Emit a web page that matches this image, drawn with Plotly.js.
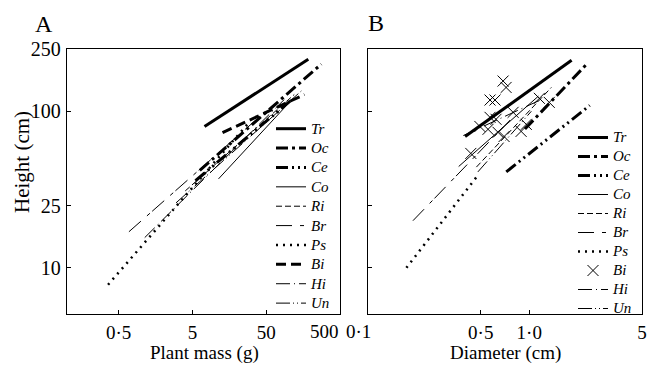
<!DOCTYPE html>
<html><head><meta charset="utf-8">
<script src="https://cdn.plot.ly/plotly-3.0.1.min.js"></script>
<style>html,body{margin:0;padding:0;background:#fff}#c{width:648px;height:368px}</style>
</head><body><div id="c"></div>
<script>
// Species (legend order)
const species = ['Tr','Oc','Ce','Co','Ri','Br','Ps','Bi','Hi','Un'];
// Panel A: plant mass (g) vs height (cm), regression segment endpoints
const massStart   = [7.3, 6.3, 5.5, 11.3, 4.0, 0.69, 0.36, 12.8, 1.13, 3.0];
const massEnd     = [186, 279, 110, 103, 120, 47, 30, 165, 88, 150];
const heightAStart= [80, 42, 36, 37, 31, 17, 7.8, 73, 15.6, 26];
const heightAEnd  = [215, 200, 118, 114, 128, 98, 86, 128, 119, 135];
// Panel B: diameter (cm) vs height (cm)
const diamStart   = [0.40, 0.94, 0.72, 0.365, 0.47, 0.19, 0.173, null, 0.39, 0.48];
const diamEnd     = [1.83, 2.27, 2.37, 1.14, 1.37, 0.77, 0.48, null, 1.19, 1.03];
const heightBStart= [69, 77, 41, 44.4, 44, 20, 10, null, 70, 41];
const heightBEnd  = [212, 200, 109, 125, 142, 89, 39, null, 119, 100];
// Panel B: Bi individual points
const biDiam   = [0.688, 0.718, 0.571, 0.613, 0.571, 0.622, 0.494, 0.555, 0.64, 0.698, 0.434, 0.958, 0.89, 1.155, 1.33, 0.794];
const biHeight = [156, 142, 118, 118, 91.5, 88.9, 80, 76.7, 73.4, 69, 53.8, 82.5, 74.4, 121, 114, 98.5];
// Tick labels and titles
const massTicks = [0.5, 5, 50], massTickText = ['0·5', '5', '50'];
const diamTicks = [0.5, 1, 5], diamTickText = ['0·5', '1·0', '5'];
const heightTicks = [10, 25, 100, 250], heightTickText = ['10', '25', '100', '250'];
const edgeLabels = ['500', '0·1'];
const titles = {a: 'A', b: 'B', xA: 'Plant mass (g)', xB: 'Diameter (cm)', y: 'Height (cm)'};

const styles = {
  Tr: {width: 3, dash: 'solid'},
  Oc: {width: 3, dash: '12px,4px,3px,4px'},
  Ce: {width: 3, dash: '12px,4px,2px,4px,2px,4px'},
  Co: {width: 1, dash: 'solid'},
  Ri: {width: 1, dash: '6px,3px'},
  Br: {width: 1, dash: '16px,8px,4px,3px'},
  Ps: {width: 2.5, dash: '2px,5px'},
  Bi: {width: 3, dash: '10px,5px'},
  Hi: {width: 1, dash: '14px,4px,1px,4px'},
  Un: {width: 1, dash: '14px,3px,1px,3px,1px,3px'}
};
const lbl = (s, px) => '<span style="font-size:' + px + 'px">' + s + '</span>';

const traces = [];
species.forEach((s, i) => {
  traces.push({
    type: 'scatter', mode: 'lines', name: lbl(s, 15), legend: 'legend',
    x: [massStart[i], massEnd[i]], y: [heightAStart[i], heightAEnd[i]],
    xaxis: 'x', yaxis: 'y',
    line: {color: '#000', width: styles[s].width, dash: styles[s].dash}
  });
});
species.forEach((s, i) => {
  if (s === 'Bi') {
    traces.push({
      type: 'scatter', mode: 'markers', name: lbl(s, 15), legend: 'legend2',
      x: biDiam, y: biHeight, xaxis: 'x2', yaxis: 'y2',
      marker: {symbol: 'x-thin-open', size: 11, color: '#000', line: {width: 1, color: '#000'}}
    });
  } else {
    traces.push({
      type: 'scatter', mode: 'lines', name: lbl(s, 15), legend: 'legend2',
      x: [diamStart[i], diamEnd[i]], y: [heightBStart[i], heightBEnd[i]],
      xaxis: 'x2', yaxis: 'y2',
      line: {color: '#000', width: styles[s].width, dash: styles[s].dash}
    });
  }
});

const serif = 'Liberation Serif, Times New Roman, serif';
const axBase = {
  type: 'log', showgrid: false, zeroline: false, showline: true, mirror: true,
  linecolor: '#000', linewidth: 1.3, ticks: 'inside', ticklen: 4, tickcolor: '#000',
  tickfont: {family: serif, size: 19, color: '#000'}
};
const W = 648, H = 368;
const ann = (text, x, y, size, extra) => Object.assign({text, xref: 'paper', yref: 'paper', x: x/W, y: 1 - y/H,
  xanchor: 'center', yanchor: 'middle', showarrow: false, font: {family: serif, size, color: '#000'}}, extra || {});
const layout = {
  width: W, height: H, margin: {l: 0, r: 0, t: 0, b: 0},
  paper_bgcolor: '#fff', plot_bgcolor: '#fff', showlegend: true,
  font: {family: serif, color: '#000'},
  xaxis: Object.assign({}, axBase, {domain: [67/W, 340/W], range: [-1, Math.log10(500)],
    tickvals: massTicks, ticktext: massTickText, anchor: 'y', ticklabelstandoff: 1}),
  yaxis: Object.assign({}, axBase, {domain: [1 - 314/H, 1 - 49/H], range: [Math.log10(5.07), Math.log10(250)],
    tickvals: heightTicks, ticktext: heightTickText, anchor: 'x', ticklabelstandoff: 1,
    tickfont: {family: serif, size: 20, color: '#000'}}),
  xaxis2: Object.assign({}, axBase, {domain: [368/W, 642/W], range: [-1, Math.log10(5)],
    tickvals: diamTicks, ticktext: diamTickText, anchor: 'y2', ticklabelstandoff: 1}),
  yaxis2: Object.assign({}, axBase, {domain: [1 - 314/H, 1 - 49/H], range: [Math.log10(5.07), Math.log10(250)],
    tickvals: heightTicks, showticklabels: false, anchor: 'x2'}),
  legend: {x: 271/W, y: 1 - 114/H, xanchor: 'left', yanchor: 'top', bgcolor: 'rgba(0,0,0,0)',
    font: {family: serif, size: 12.6, style: 'italic', color: '#000'}, tracegroupgap: 0, itemwidth: 30},
  legend2: {x: 573/W, y: 1 - 123/H, xanchor: 'left', yanchor: 'top', bgcolor: 'rgba(0,0,0,0)',
    font: {family: serif, size: 11.2, style: 'italic', color: '#000'}, tracegroupgap: 0, itemwidth: 30},
  annotations: [
    ann(titles.a, 44, 24, 24),
    ann(titles.b, 376, 23, 24),
    ann(edgeLabels[0], 324, 331, 19),
    ann(edgeLabels[1], 358, 331, 19),
    ann(titles.xA, 204, 353, 19),
    ann(titles.xB, 505, 353, 19),
    ann(titles.y, 22, 162, 21, {textangle: -90})
  ]
};
Plotly.newPlot('c', traces, layout, {staticPlot: true, displayModeBar: false});
</script></body></html>
